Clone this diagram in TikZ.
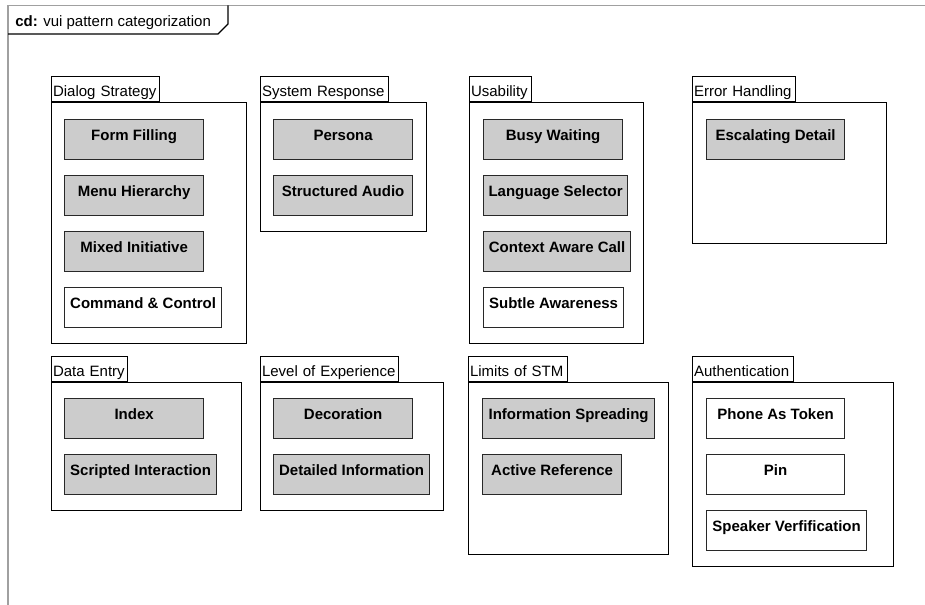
\documentclass[tikz,border=0pt]{standalone}
\usepackage{fontspec}
\setmainfont{Liberation Sans}

\definecolor{framegray}{RGB}{160,160,160}
\definecolor{patfill}{RGB}{204,204,204}
\definecolor{patline}{RGB}{40,40,40}

% package: name, left x, body top, tab width, right x, bottom y, title
\newcommand\umlpackage[7]{%
  \node[pkgbody, minimum width={(#5-#2)*0.75pt}, minimum height={(#6-#3)*0.75pt}] (#1) at (#2,#3) {};
  \node[pkgtab, minimum width={#4*0.75pt}, text width={(#4-3)*0.75pt}] (#1-tab) at (#1.north west) {#7};
}
% pattern class: style, name, left x, top y, right x, text
\newcommand\vuiclass[6]{%
  \node[#1, minimum width={(#5-#3)*0.75pt}] (#2) at (#3,#4) {#6};
}

\begin{document}
\begin{tikzpicture}[x=0.75pt,y=-0.75pt,
  font=\fontsize{11.25pt}{13pt}\selectfont,
  pkgbody/.style={draw=black, line width=0.8pt, fill=white, anchor=north west, inner sep=0pt},
  pkgtab/.style={draw=black, line width=0.8pt, fill=white, anchor=south west,
    inner xsep=1.125pt, inner ysep=0pt, align=left,
    text height=15pt, text depth=3.75pt},
  patbox/.style={draw=patline, line width=0.9pt, anchor=north west,
    inner xsep=0pt, inner ysep=0pt, font=\fontsize{11.25pt}{13pt}\selectfont\bfseries,
    text height=15.75pt, text depth=14.25pt},
  grey/.style={patbox, fill=patfill},
  plain/.style={patbox, fill=white}]
\useasboundingbox (0,0) rectangle (925,605);

% diagram frame and its name tab
\draw[framegray, line width=1.2pt] (8,605) -- (8,5.5) -- (925,5.5);
\draw[black, line width=0.8pt] (8,34) -- (218,34) -- (228,24) -- (228,5.5);
\node[anchor=base west, inner sep=0pt] (diagname) at (15,27) {\textbf{cd:} vui pattern categorization};

% packages, upper row
\umlpackage{ds}{51}{102}{108}{246}{343}{Dialog Strategy}
\umlpackage{sr}{260}{102}{128}{426}{231}{System Response}
\umlpackage{us}{469}{102}{62}{643}{343}{Usability}
\umlpackage{eh}{692}{102}{103}{886}{243}{Error Handling}
% packages, lower row
\umlpackage{de}{51}{382}{76}{241}{510}{Data Entry}
\umlpackage{le}{260}{382}{138}{443}{510}{Level of Experience}
\umlpackage{ls}{468}{382}{99}{668}{554}{Limits of STM}
\umlpackage{au}{692}{382}{101}{893}{566}{Authentication}

% Dialog Strategy
\vuiclass{grey}{ff}{64}{119}{203}{Form Filling}
\vuiclass{grey}{mh}{64}{175}{203}{Menu Hierarchy}
\vuiclass{grey}{mi}{64}{231}{203}{Mixed Initiative}
\vuiclass{plain}{cc}{64}{287}{221}{Command \& Control}
% System Response
\vuiclass{grey}{pe}{273}{119}{412}{Persona}
\vuiclass{grey}{sa}{273}{175}{412}{Structured Audio}
% Usability
\vuiclass{grey}{bw}{483}{119}{622}{Busy Waiting}
\vuiclass{grey}{lsel}{483}{175}{627}{Language Selector}
\vuiclass{grey}{cac}{483}{231}{630}{Context Aware Call}
\vuiclass{plain}{sub}{483}{287}{623}{Subtle Awareness}
% Error Handling
\vuiclass{grey}{esc}{706}{119}{844}{Escalating Detail}
% Data Entry
\vuiclass{grey}{idx}{64}{398}{203}{Index}
\vuiclass{grey}{si}{64}{454}{216}{Scripted Interaction}
% Level of Experience
\vuiclass{grey}{dec}{273}{398}{412}{Decoration}
\vuiclass{grey}{di}{273}{454}{429}{Detailed Information}
% Limits of STM
\vuiclass{grey}{isp}{482}{398}{654}{Information Spreading}
\vuiclass{grey}{ar}{482}{454}{621}{Active Reference}
% Authentication
\vuiclass{plain}{pat}{706}{398}{844}{Phone As Token}
\vuiclass{plain}{pin}{706}{454}{844}{Pin}
\vuiclass{plain}{sv}{706}{510}{866}{Speaker Verfification}
\end{tikzpicture}
\end{document}
